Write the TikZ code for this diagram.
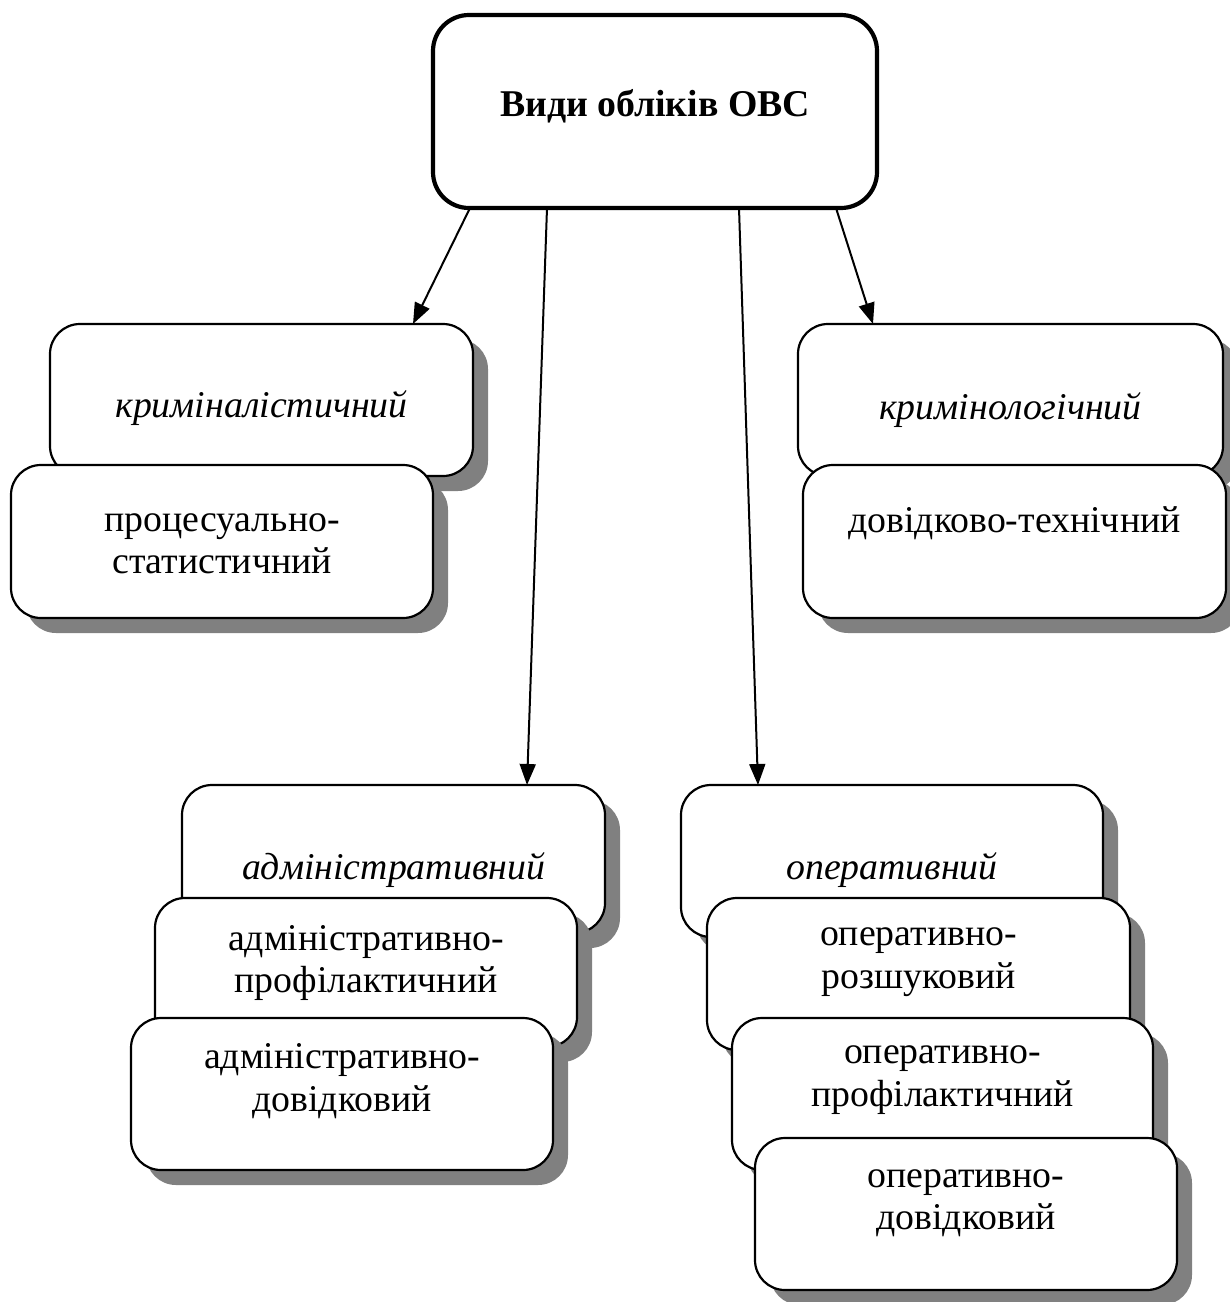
\documentclass[tikz,border=0pt]{standalone}
\usepackage{fontspec}
\setmainfont{Liberation Serif}
\usetikzlibrary{arrows.meta,shadows}
\begin{document}
\begin{tikzpicture}[x=1pt,y=-1pt,
  box/.style={draw=black,line width=2.2pt,fill=white,rounded corners=30pt,
    inner sep=0pt,outer sep=0pt,
    drop shadow={shadow xshift=15pt,shadow yshift=-15pt,fill=gray,opacity=1}},
  topbox/.style={draw=black,line width=4.2pt,fill=white,rounded corners=36pt,
    inner sep=0pt,outer sep=0pt,minimum width=444pt,minimum height=193pt},
  txt/.style={inner sep=0pt,align=center,font=\fontsize{37.8}{42.5}\selectfont},
  itxt/.style={txt,font=\fontsize{37.8}{42.5}\selectfont\itshape},
  arr/.style={line width=2pt,-{Triangle[length=21pt,width=16pt]}}]
\useasboundingbox (0,0) rectangle (1230,1302);

% top
\node[topbox] (top) at (655,111.5) {};
\node[txt,font=\fontsize{37.8}{42.5}\selectfont\bfseries] (topt) at (655,106) {Види обліків ОВС};

% left group
\node[box,minimum width=423pt,minimum height=152pt] (k1) at (261.5,400) {};
\node[itxt] (k1t) at (261.5,408) {криміналістичний};
\node[box,minimum width=422pt,minimum height=153pt] (k2) at (222,541.5) {};
\node[txt] (k2t) at (222,544) {процесуально-\\статистичний};

% right group
\node[box,minimum width=425pt,minimum height=152pt] (r1) at (1010.5,400) {};
\node[itxt] (r1t) at (1010.5,410) {кримінологічний};
\node[box,minimum width=423pt,minimum height=153pt] (r2) at (1014.5,541.5) {};
\node[txt] (r2t) at (1014.5,523) {довідково-технічний};

% bottom left group
\node[box,minimum width=423pt,minimum height=148pt] (a1) at (393.5,859) {};
\node[itxt] (a1t) at (393.5,870) {адміністративний};
\node[box,minimum width=422pt,minimum height=149pt] (a2) at (366,972.5) {};
\node[txt] (a2t) at (366,963) {адміністративно-\\профілактичний};
\node[box,minimum width=422pt,minimum height=152pt] (a3) at (342,1094) {};
\node[txt] (a3t) at (342,1081) {адміністративно-\\довідковий};

% bottom right group
\node[box,minimum width=422pt,minimum height=152pt] (o1) at (892,861) {};
\node[itxt] (o1t) at (892,870) {оперативний};
\node[box,minimum width=423pt,minimum height=152pt] (o2) at (918.5,974) {};
\node[txt] (o2t) at (918.5,962) {оперативно-\\розшуковий};
\node[box,minimum width=421pt,minimum height=152pt] (o3) at (942.5,1094) {};
\node[txt] (o3t) at (942.5,1080) {оперативно-\\профілактичний};
\node[box,minimum width=422pt,minimum height=152pt] (o4) at (966,1214) {};
\node[txt] (o4t) at (966,1203) {оперативно-\\довідковий};

% arrows
\draw[arr] ([xshift=-185pt]top.south) -- ([xshift=151.5pt]k1.north);
\draw[arr] ([xshift=-108pt]top.south) -- ([xshift=133.5pt]a1.north);
\draw[arr] ([xshift=84pt]top.south) -- ([xshift=-134pt]o1.north);
\draw[arr] ([xshift=181pt]top.south) -- ([xshift=-137.5pt]r1.north);
\end{tikzpicture}
\end{document}
